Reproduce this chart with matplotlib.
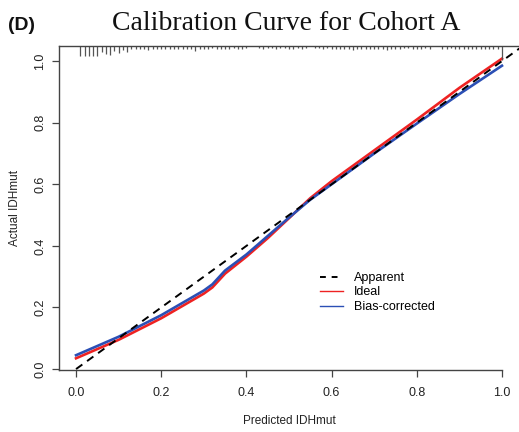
import numpy as np
import matplotlib
matplotlib.use("Agg")
import matplotlib.pyplot as plt
from matplotlib.lines import Line2D

plt.rcParams['font.family'] = ['Liberation Sans', 'DejaVu Sans']

# calibration curves
pred = [0.0, 0.05, 0.1, 0.15, 0.2, 0.25, 0.3, 0.32, 0.35, 0.4, 0.45, 0.5, 0.55, 0.6, 0.7, 0.8, 0.9, 1.0]
ideal = [0.035, 0.065, 0.095, 0.13, 0.165, 0.205, 0.245, 0.265, 0.31, 0.365, 0.425, 0.49, 0.555, 0.61, 0.71, 0.81, 0.913, 1.008]
bias_corr = [0.045, 0.075, 0.105, 0.14, 0.175, 0.215, 0.255, 0.275, 0.32, 0.372, 0.432, 0.492, 0.55, 0.60, 0.70, 0.797, 0.893, 0.985]

# spike histogram of predictions (top rug)
rug_x = [round(0.01 * i, 2) for i in range(1, 101)]
rug_n = [10, 10, 10, 10, 10, 6, 8, 9, 5, 7,
         4, 6, 3, 3, 3, 3, 4, 3, 3, 3,
         3, 3, 3, 3, 3, 3, 3, 5, 3, 3,
         3, 2, 3, 3, 3, 3, 2, 3, 3, 2,
         0, 0, 2, 3, 2, 2, 3, 2, 2, 3,
         3, 2, 3, 2, 0, 2, 2, 3, 2, 3,
         3, 3, 3, 3, 4, 3, 3, 3, 3, 3,
         3, 3, 4, 3, 3, 3, 2, 2, 3, 3,
         3, 2, 3, 0, 0, 3, 3, 2, 3, 3,
         3, 3, 3, 3, 3, 3, 3, 3, 3, 14]

ticks = [0.0, 0.2, 0.4, 0.6, 0.8, 1.0]
tick_labels = ['0.0', '0.2', '0.4', '0.6', '0.8', '1.0']

red = '#ee2222'
blue = '#2b4fb5'

fig = plt.figure(figsize=(5.19, 4.32), dpi=100)
ax = fig.add_axes([59/519, 62/432, 1 - 59/519, (370-46)/432])
ax.set_xlim(-0.04, 1.04)
ax.set_ylim(-0.003, 1.049)

ax.plot(pred, ideal, color=red, lw=1.9, solid_joinstyle='round')
ax.plot(pred, bias_corr, color=blue, lw=1.9, solid_joinstyle='round')
ax.plot([0, 1.06], [0, 1.06], color='black', lw=1.4, ls=(0, (4, 3)))

top = 1.049
ax.vlines([x for x, n in zip(rug_x, rug_n) if n > 0],
          [top - n * 0.0033 for n in rug_n if n > 0], top,
          color='#555555', lw=0.9)

ax.spines['right'].set_visible(False)
ax.spines['bottom'].set_bounds(-0.04, 1.0)
for s in ['left', 'top', 'bottom']:
    ax.spines[s].set_color('#444444')
    ax.spines[s].set_linewidth(1.0)

ax.set_xticks(ticks)
ax.set_xticklabels(tick_labels)
ax.set_yticks(ticks)
ax.set_yticklabels(tick_labels, rotation=90, va='center')
ax.tick_params(direction='out', length=5, width=0.9, colors='#444444', labelcolor='#222222', labelsize=9)
ax.tick_params(axis='x', pad=7)
ax.tick_params(axis='y', pad=4)

ax.set_xlabel('Predicted IDHmut', fontsize=8.5, color='#222222', labelpad=12)
ax.set_ylabel('Actual IDHmut', fontsize=8.5, color='#222222', labelpad=10)

handles = [Line2D([], [], color='black', lw=1.4, ls=(0, (3, 3))),
           Line2D([], [], color=red, lw=1.0),
           Line2D([], [], color=blue, lw=1.0)]
ax.legend(handles, ['Apparent', 'Ideal', 'Bias-corrected'], frameon=False,
          fontsize=9, loc='upper left', bbox_to_anchor=(255/460, 0.322),
          handlelength=1.8, handletextpad=0.9, labelspacing=0.2, borderpad=0)

fig.text(286/519, 1 - 24/432, 'Calibration Curve for Cohort A', family='Liberation Serif',
         fontsize=20, ha='center', va='center', color='#111111')
fig.text(8/519, 1 - 25/432, '(D)', fontsize=14, fontweight='bold', ha='left', va='center', color='#111111')

fig.savefig('out.png', dpi=100)
